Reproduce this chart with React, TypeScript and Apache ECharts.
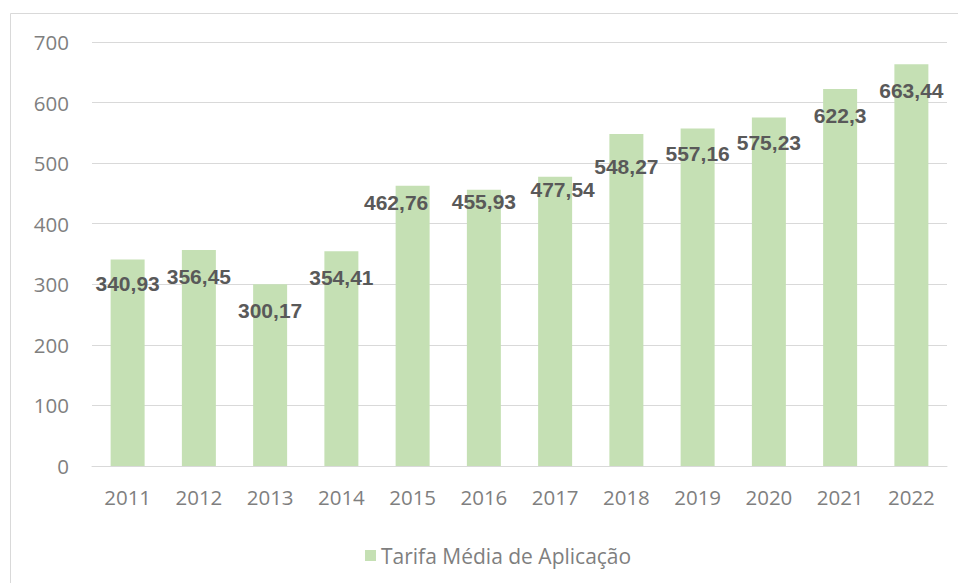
import React, { useEffect, useRef } from "react";
import * as echarts from "echarts";

const categories = ["2011", "2012", "2013", "2014", "2015", "2016", "2017", "2018", "2019", "2020", "2021", "2022"];
const values = [340.93, 356.45, 300.17, 354.41, 462.76, 455.93, 477.54, 548.27, 557.16, 575.23, 622.3, 663.44];
const seriesName = "Tarifa Média de Aplicação";
const yTicks = { min: 0, max: 700, interval: 100 };
// label displacement (dx, label-centre distance below bar top)
const labelShift: [number, number][] = [
  [0, 24.5], [0, 26], [0, 26], [0, 26], [-16.5, 17], [0, 12],
  [7.5, 12.7], [0, 33], [0, 25], [0, 24.6], [0, 26.7], [0, 26.6],
];

const LABEL_FONT = 21;

export default function App() {
  const ref = useRef<HTMLDivElement>(null);
  useEffect(() => {
    if (!ref.current) return;
    const chart = echarts.init(ref.current, null, { renderer: "svg" });
    const fmt = (v: number) => String(v).replace(".", ",");
    chart.setOption({
      animation: false,
      backgroundColor: "#ffffff",
      textStyle: { fontFamily: "Open Sans" },
      graphic: [
        {
          type: "rect",
          shape: { x: 10.5, y: 13.5, width: 1200, height: 1200 },
          style: { fill: "none", stroke: "#d9d9d9", lineWidth: 1 },
          silent: true,
          z: -1,
        },
      ],
      grid: { left: 92, right: 11, top: 42, bottom: 117, containLabel: false },
      legend: {
        data: [seriesName],
        left: 360,
        top: 540,
        icon: "rect",
        itemWidth: 11,
        itemHeight: 11,
        itemGap: 6,
        textStyle: { fontFamily: "Open Sans", fontSize: 21, color: "#7f7f7f" },
      },
      xAxis: {
        type: "category",
        data: categories,
        axisLine: { show: true, lineStyle: { color: "#d9d9d9", width: 1 } },
        axisTick: { show: false },
        axisLabel: { color: "#7f7f7f", fontSize: 20.5, fontFamily: "Open Sans", margin: 20 },
      },
      yAxis: {
        type: "value",
        min: yTicks.min,
        max: yTicks.max,
        interval: yTicks.interval,
        axisLine: { show: false },
        axisTick: { show: false },
        splitLine: { lineStyle: { color: "#d9d9d9", width: 1 } },
        axisLabel: { color: "#7f7f7f", fontSize: 20.5, fontFamily: "Open Sans", margin: 23 },
      },
      series: [
        {
          name: seriesName,
          type: "bar",
          barWidth: 34,
          itemStyle: { color: "#C5E0B4" },
          data: values.map((v, i) => ({
            value: v,
            label: {
              offset: [labelShift[i][0], labelShift[i][1] - LABEL_FONT / 2],
            },
          })),
          label: {
            show: true,
            position: "insideTop",
            distance: 0,
            color: "#595959",
            fontFamily: "Liberation Sans",
            fontWeight: "bold",
            fontSize: LABEL_FONT,
            lineHeight: LABEL_FONT,
            formatter: (p: any) => fmt(p.value),
          },
        },
      ],
    });
    return () => chart.dispose();
  }, []);
  return (
    <div
      ref={ref}
      style={{ position: "fixed", left: 0, top: 0, width: 958, height: 583 }}
    />
  );
}
